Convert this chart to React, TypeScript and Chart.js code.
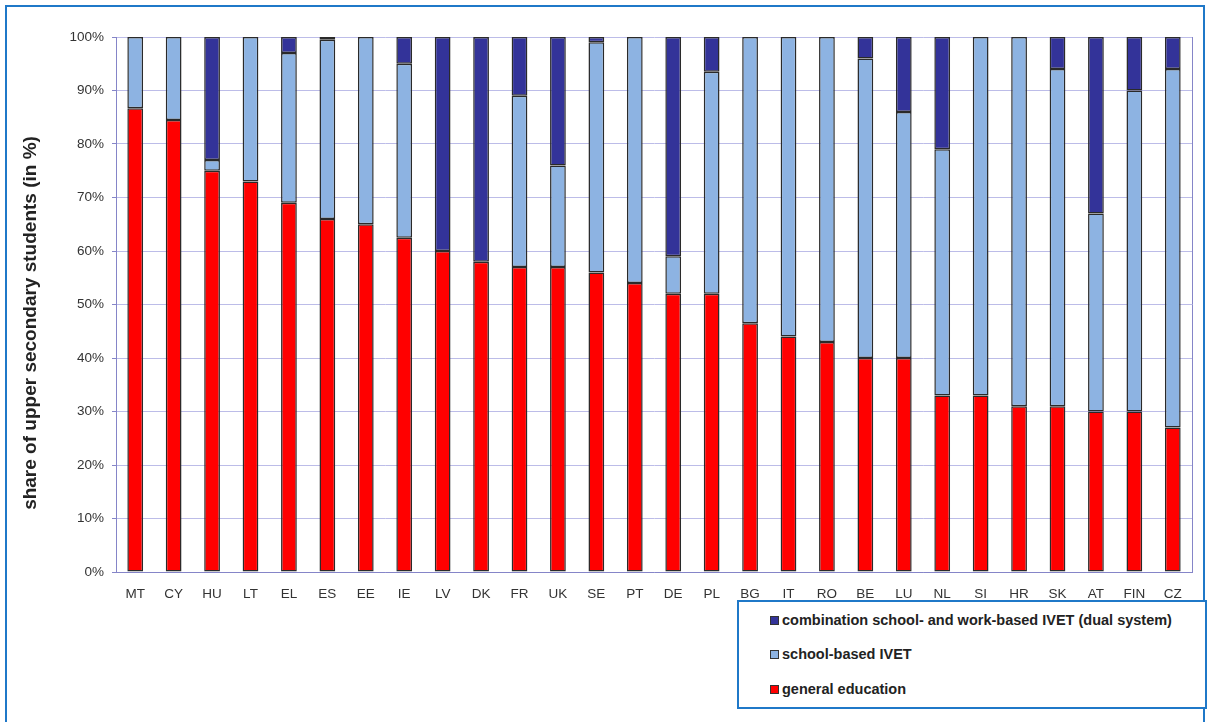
import React, { useEffect, useRef } from "react";
import { Chart, registerables } from "chart.js";

Chart.register(...registerables);

const countries = ["MT","CY","HU","LT","EL","ES","EE","IE","LV","DK","FR","UK","SE","PT","DE","PL","BG","IT","RO","BE","LU","NL","SI","HR","SK","AT","FIN","CZ"];
const generalEducation = [86.7,84.5,75,73,69,66,65,62.5,60,58,57,57,56,54,52,52,46.5,44,43,40,40,33,33,31,31,30,30,27];
const schoolBased = [13.3,15.5,2,27,28,33.5,35,32.5,0,0,32,19,43,46,7,41.5,53.5,56,57,56,46,46,67,69,63,37,60,67];
const dualSystem = [0,0,23,0,3,0.5,0,5,40,42,11,24,1,0,41,6.5,0,0,0,4,14,21,0,0,6,33,10,6];
const yTicks = [0,10,20,30,40,50,60,70,80,90,100];

const seriesLabels = [
  "combination school- and work-based IVET (dual system)",
  "school-based IVET",
  "general education",
];
const seriesColors = ["#333399", "#8DB3E2", "#FF0000"];
const yTitle = "share of upper secondary students (in %)";

const FONT = "'Liberation Sans', Arial, sans-serif";

const frame = {
  id: "frame",
  beforeDatasetsDraw(chart: any) {
    const { ctx, chartArea } = chart;
    ctx.save();
    ctx.strokeStyle = "#8585c8";
    ctx.lineWidth = 1;
    ctx.beginPath();
    ctx.moveTo(Math.round(chartArea.right) + 0.5, chartArea.top);
    ctx.lineTo(Math.round(chartArea.right) + 0.5, chartArea.bottom);
    ctx.stroke();
    ctx.restore();
  },
  afterDraw(chart: any) {
    const { ctx } = chart;
    ctx.save();
    ctx.translate(31, 323);
    ctx.rotate(-Math.PI / 2);
    ctx.font = `bold 19px ${FONT}`;
    ctx.fillStyle = "#222";
    ctx.textAlign = "center";
    ctx.textBaseline = "middle";
    ctx.fillText(yTitle, 0, 0);
    ctx.restore();
  },
};

export default function App() {
  const ref = useRef<HTMLCanvasElement>(null);
  useEffect(() => {
    document.body.style.margin = "0";
    const z = (a: number[]) => a.map((v) => (v === 0 ? null : v));
    const chart = new Chart(ref.current!, {
      type: "bar",
      data: {
        labels: countries,
        datasets: [
          { label: seriesLabels[2], data: z(generalEducation), backgroundColor: seriesColors[2] },
          { label: seriesLabels[1], data: z(schoolBased), backgroundColor: seriesColors[1] },
          { label: seriesLabels[0], data: z(dualSystem), backgroundColor: seriesColors[0] },
        ].map((d) => ({
          ...d,
          borderColor: "#2a2a2a",
          borderWidth: 1.5,
          borderSkipped: false,
          barPercentage: 0.41,
          categoryPercentage: 1,
        })) as any,
      },
      options: {
        animation: false,
        responsive: false,
        maintainAspectRatio: false,
        layout: { padding: { left: 0, right: 16, top: 37, bottom: 0 } },
        plugins: {
          legend: { display: false },
          tooltip: { enabled: false },
        },
        scales: {
          x: {
            stacked: true,
            grid: { display: false },
            border: { display: true, color: "#8585c8" },
            ticks: { color: "#333", font: { family: FONT, size: 13.5 }, padding: 6, maxRotation: 0, autoSkip: false },
            afterFit: (s: any) => { s.height = 150; },
          },
          y: {
            stacked: true,
            min: 0,
            max: 100,
            afterBuildTicks: (s: any) => { s.ticks = yTicks.map((v) => ({ value: v })); },
            grid: { color: "#bcbce8", tickLength: 4, tickColor: "#8585c8" },
            border: { display: true, color: "#8585c8" },
            ticks: {
              color: "#333",
              font: { family: FONT, size: 13.5 },
              padding: 8,
              callback: (v: any) => v + "%",
            },
            afterFit: (s: any) => { s.width = 116; },
          },
        },
      },
      plugins: [frame],
    });
    return () => chart.destroy();
  }, []);

  const blue = "#1f78c8";
  return (
    <div style={{ position: "fixed", left: 0, top: 0, width: 1208, height: 722, background: "#fff", overflow: "hidden", fontFamily: FONT }}>
      <div style={{ position: "absolute", left: 5, top: 5, width: 1196, height: 730, border: `2px solid ${blue}` }} />
      <canvas ref={ref} width={1208} height={722} style={{ position: "absolute", left: 0, top: 0, width: 1208, height: 722 }} />
      <div style={{ position: "absolute", left: 737, top: 600, width: 466, height: 105, border: `2px solid ${blue}`, background: "#fff" }}>
        {seriesLabels.map((l, i) => (
          <div key={l} style={{ position: "absolute", left: 31, top: [10, 44, 79][i], display: "flex", alignItems: "center", fontSize: 14.5, fontWeight: "bold", color: "#222", whiteSpace: "nowrap" }}>
            <span style={{ display: "inline-block", width: 7, height: 7, background: seriesColors[i], border: "1px solid #333", marginRight: 3 }} />
            {l}
          </div>
        ))}
      </div>
    </div>
  );
}
